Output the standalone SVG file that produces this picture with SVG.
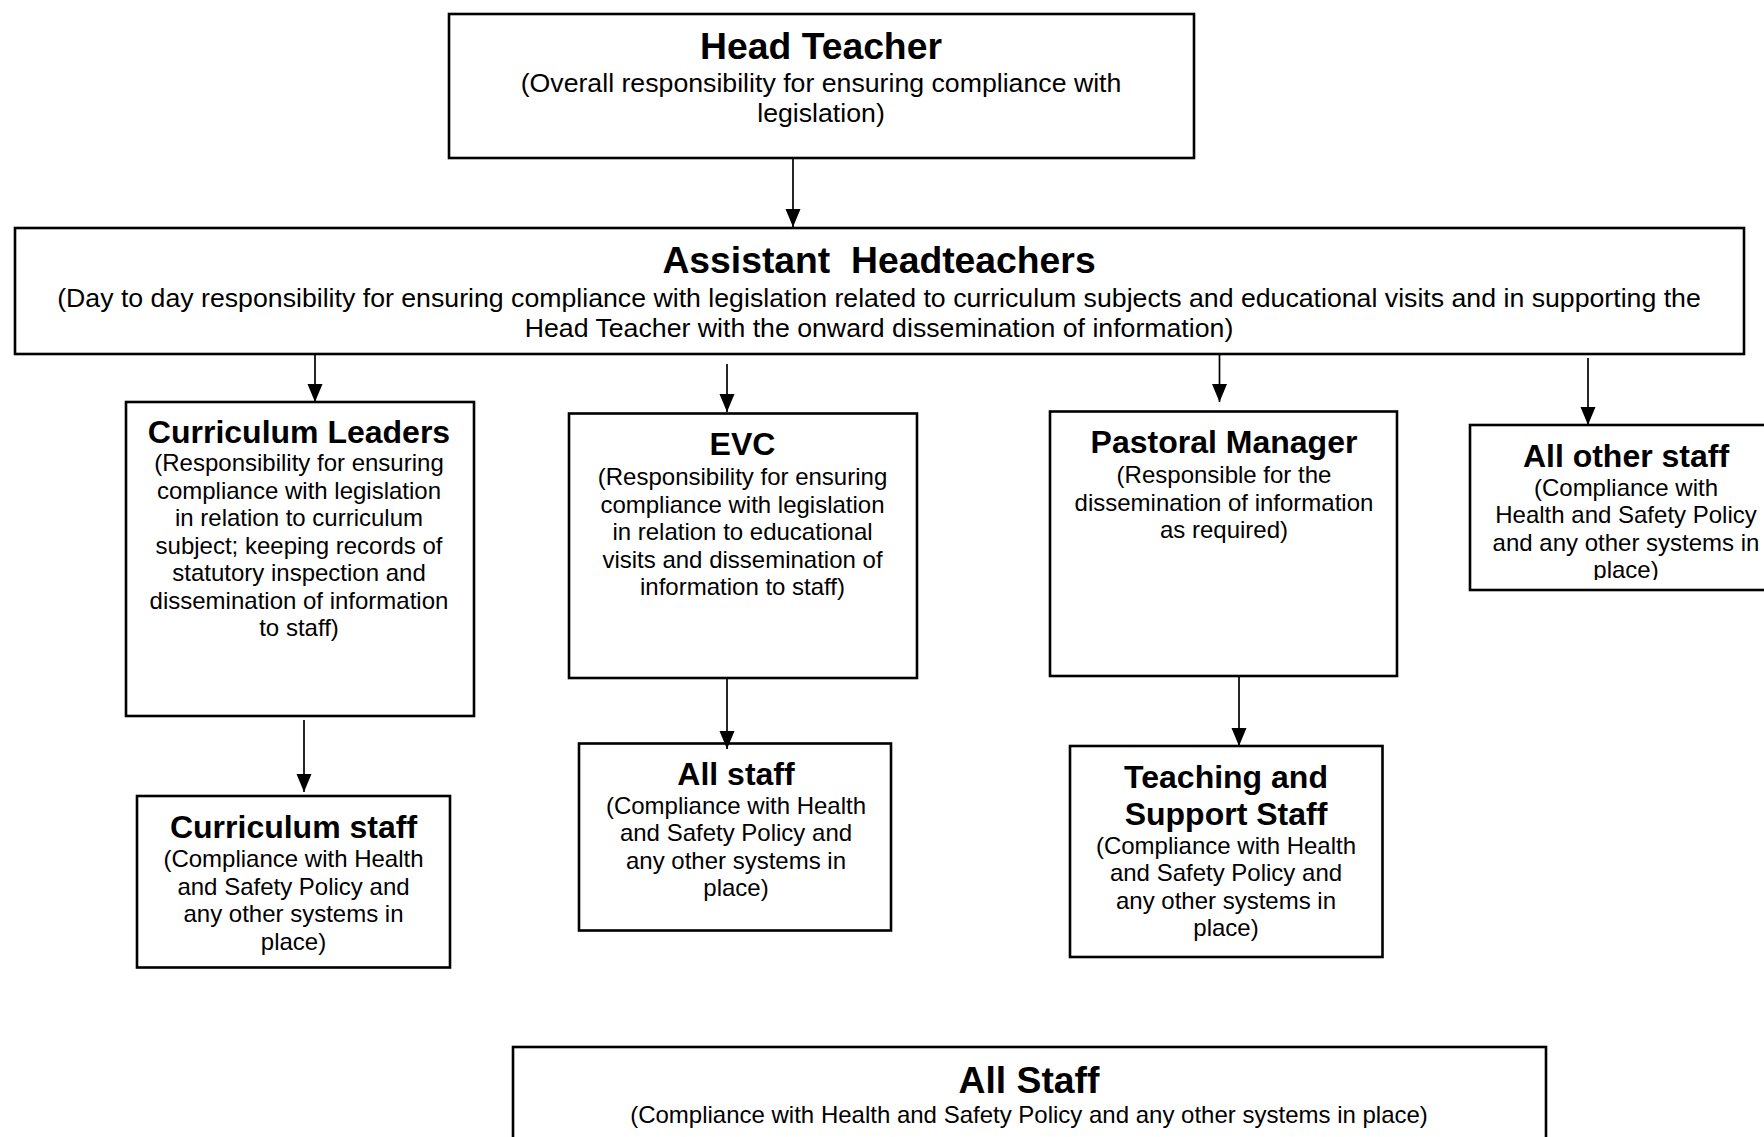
<svg xmlns="http://www.w3.org/2000/svg" width="1764" height="1137" viewBox="0 0 1764 1137">
<style>
.box{fill:#fff;stroke:#000;stroke-width:2.6}
text{font-family:"Liberation Sans",Arial,Helvetica,sans-serif;fill:#000;text-anchor:middle}
.t1{font-size:37.3px;font-weight:bold}
.b1{font-size:26.7px}
.t2{font-size:32px;font-weight:bold}
.b2{font-size:24px}
.conn line{stroke:#000;stroke-width:1.7;marker-end:url(#arr)}
</style>
<defs>
<marker id="arr" markerUnits="userSpaceOnUse" markerWidth="18" markerHeight="16" refX="18" refY="7.5" orient="auto">
<path d="M0,0 L18,7.5 L0,15 Z" fill="#000"/>
</marker>
<clipPath id="clipAOS"><rect x="1470" y="425" width="300" height="155"/></clipPath>
</defs>
<rect width="1764" height="1137" fill="#fff"/>

<g id="head-teacher">
<rect class="box" x="449" y="14" width="745" height="144"/>
<text class="t1" x="821" y="59">Head Teacher</text>
<text class="b1" x="821" y="92">(Overall responsibility for ensuring compliance with</text>
<text class="b1" x="821" y="122">legislation)</text>
</g>

<g id="assistant-headteachers">
<rect class="box" x="15" y="228" width="1729" height="126"/>
<text class="t1" x="879" y="273" xml:space="preserve">Assistant  Headteachers</text>
<text class="b1" x="879" y="307">(Day to day responsibility for ensuring compliance with legislation related to curriculum subjects and educational visits and in supporting the</text>
<text class="b1" x="879" y="337">Head Teacher with the onward dissemination of information)</text>
</g>

<g id="curriculum-leaders">
<rect class="box" x="126" y="402" width="348" height="314"/>
<text class="t2" x="299" y="443">Curriculum Leaders</text>
<text class="b2" x="299" y="471">(Responsibility for ensuring</text>
<text class="b2" x="299" y="498.5">compliance with legislation</text>
<text class="b2" x="299" y="526">in relation to curriculum</text>
<text class="b2" x="299" y="553.5">subject; keeping records of</text>
<text class="b2" x="299" y="581">statutory inspection and</text>
<text class="b2" x="299" y="608.5">dissemination of information</text>
<text class="b2" x="299" y="636">to staff)</text>
</g>

<g id="evc">
<rect class="box" x="569" y="413.5" width="348" height="264.5"/>
<text class="t2" x="742.5" y="455">EVC</text>
<text class="b2" x="742.5" y="485">(Responsibility for ensuring</text>
<text class="b2" x="742.5" y="512.5">compliance with legislation</text>
<text class="b2" x="742.5" y="540">in relation to educational</text>
<text class="b2" x="742.5" y="567.5">visits and dissemination of</text>
<text class="b2" x="742.5" y="595">information to staff)</text>
</g>

<g id="pastoral-manager">
<rect class="box" x="1050" y="411.5" width="347" height="264.5"/>
<text class="t2" x="1224" y="453">Pastoral Manager</text>
<text class="b2" x="1224" y="483">(Responsible for the</text>
<text class="b2" x="1224" y="510.5">dissemination of information</text>
<text class="b2" x="1224" y="538">as required)</text>
</g>

<g id="all-other-staff">
<rect class="box" x="1470" y="425" width="310" height="165"/>
<g clip-path="url(#clipAOS)">
<text class="t2" x="1626" y="466.5">All other staff</text>
<text class="b2" x="1626" y="495.5">(Compliance with</text>
<text class="b2" x="1626" y="523">Health and Safety Policy</text>
<text class="b2" x="1626" y="550.5">and any other systems in</text>
<text class="b2" x="1626" y="578">place)</text>
</g>
</g>

<g id="curriculum-staff">
<rect class="box" x="137" y="796" width="313" height="171.5"/>
<text class="t2" x="293.5" y="838">Curriculum staff</text>
<text class="b2" x="293.5" y="867">(Compliance with Health</text>
<text class="b2" x="293.5" y="894.5">and Safety Policy and</text>
<text class="b2" x="293.5" y="922">any other systems in</text>
<text class="b2" x="293.5" y="949.5">place)</text>
</g>

<g id="all-staff-evc">
<rect class="box" x="579" y="743.5" width="312" height="187"/>
<text class="t2" x="736" y="785">All staff</text>
<text class="b2" x="736" y="813.5">(Compliance with Health</text>
<text class="b2" x="736" y="841">and Safety Policy and</text>
<text class="b2" x="736" y="868.5">any other systems in</text>
<text class="b2" x="736" y="896">place)</text>
</g>

<g id="teaching-support-staff">
<rect class="box" x="1070" y="746" width="312.5" height="211"/>
<text class="t2" x="1226" y="788">Teaching and</text>
<text class="t2" x="1226" y="824.5">Support Staff</text>
<text class="b2" x="1226" y="853.5">(Compliance with Health</text>
<text class="b2" x="1226" y="881">and Safety Policy and</text>
<text class="b2" x="1226" y="908.5">any other systems in</text>
<text class="b2" x="1226" y="936">place)</text>
</g>

<g id="all-staff">
<rect class="box" x="513" y="1047" width="1033" height="120"/>
<text class="t1" x="1029" y="1093">All Staff</text>
<text class="b2" x="1029" y="1123">(Compliance with Health and Safety Policy and any other systems in place)</text>
</g>

<g id="connectors" class="conn">
<line x1="793" y1="158" x2="793" y2="227"/>
<line x1="315" y1="355" x2="315" y2="402"/>
<line x1="727" y1="364" x2="727" y2="412"/>
<line x1="1219.5" y1="355" x2="1219.5" y2="402"/>
<line x1="1588" y1="358" x2="1588" y2="425"/>
<line x1="304" y1="720" x2="304" y2="792"/>
<line x1="727" y1="678" x2="727" y2="749"/>
<line x1="1239" y1="675" x2="1239" y2="746"/>
</g>
</svg>
